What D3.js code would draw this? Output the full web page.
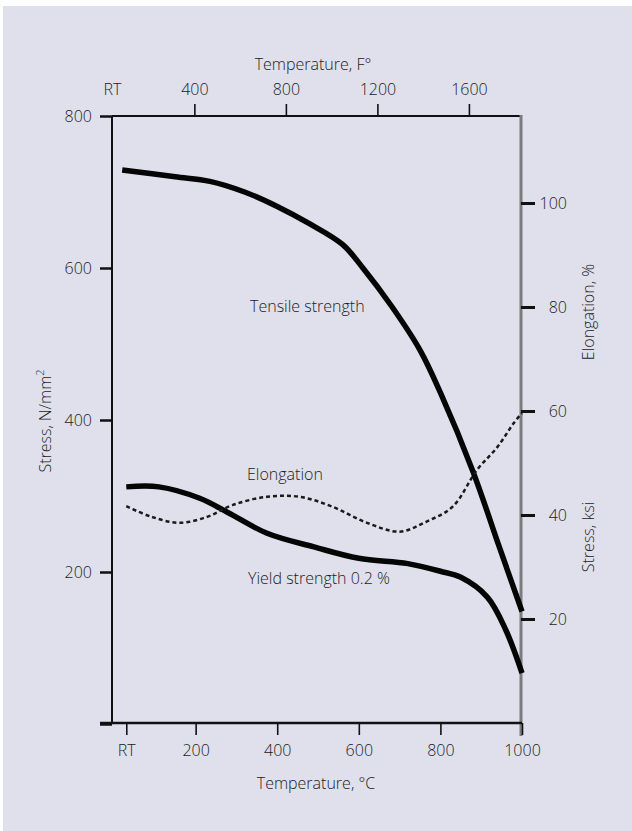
<!DOCTYPE html>
<html>
<head>
<meta charset="utf-8">
<script src="https://cdn.jsdelivr.net/npm/d3@7"></script>
<style>
  body { margin: 0; background: #fff; }
  text { font-family: "Open Sans", "DejaVu Sans", sans-serif; font-weight: 300; fill: #1c1c1c; }
</style>
</head>
<body>
<div id="chart"></div>
<script>
// temperature (°C) / stress (N/mm²) readings
const tensile = [[20,729],[150,720],[235,714],[320,700],[400,681],[480,658],[560,631],[610,600],
                 [680,550],[750,492],[800,436],[880,332],[945,232],[1000,148]];
const yieldStr = [[30,312],[110,312],[210,297],[280,278],[375,251],[490,233],[600,218],[720,211],
                  [800,201],[850,193],[915,167],[960,124],[1000,67]];
// temperature (°C) / elongation (%)
const elongation = [[30,41.7],[90,39.7],[160,38.5],[230,39.7],[290,41.9],[375,43.5],[455,43.5],
                    [535,41.6],[620,38.5],[700,36.8],[765,38.7],[830,41.6],[890,48.7],[940,53.1],
                    [980,57.7],[1000,59.6]];

const cTicks = [30, 200, 400, 600, 800, 1000];
const fTicks = [40, 400, 800, 1200, 1600];
const stressTicks = [0, 200, 400, 600, 800];
const rightTicks = [20, 40, 60, 80, 100];

const width = 632, height = 831;

const svg = d3.select("#chart").append("svg")
    .attr("width", width)
    .attr("height", height);

svg.append("rect")
    .attr("x", 3).attr("y", 6)
    .attr("width", width - 3).attr("height", height - 6)
    .attr("fill", "#dfe0ec");

// scales
const x = d3.scaleLinear().domain([-5, 1000]).range([112, 522]);
const xF = d3.scaleLinear().domain([40, 1832]).range([112, 522]);
const y = d3.scaleLinear().domain([0, 800]).range([724, 116]);
const yPct = d3.scaleLinear().domain([0, 100]).range([723, 203]);

// frame
const frame = svg.append("g");
frame.append("line").attr("x1", 112).attr("x2", 521).attr("y1", 116).attr("y2", 116)
    .attr("stroke", "#111").attr("stroke-width", 2);
frame.append("line").attr("x1", 112).attr("x2", 112).attr("y1", 116).attr("y2", 723)
    .attr("stroke", "#111").attr("stroke-width", 2);
frame.append("line").attr("x1", 521).attr("x2", 521).attr("y1", 115).attr("y2", 736)
    .attr("stroke", "#7c7c7e").attr("stroke-width", 3);
frame.append("line").attr("x1", 100).attr("x2", 522).attr("y1", 723).attr("y2", 723)
    .attr("stroke", "#111").attr("stroke-width", 2.5);

// bottom axis (°C)
const axisC = svg.append("g")
    .attr("transform", "translate(0,723)")
    .call(d3.axisBottom(x).tickValues(cTicks).tickSize(12).tickPadding(10)
        .tickFormat(d => d === 30 ? "RT" : d));
axisC.select(".domain").remove();
axisC.selectAll(".tick line").attr("stroke", "#111").attr("stroke-width", 1.6);
axisC.selectAll(".tick text").style("font-size", "16px").attr("fill", "#1c1c1c");

// top axis (°F)
const axisF = svg.append("g")
    .attr("transform", "translate(0,116)")
    .call(d3.axisTop(xF).tickValues(fTicks).tickSize(12).tickPadding(9)
        .tickFormat(d => d === 40 ? "RT" : d));
axisF.select(".domain").remove();
axisF.selectAll(".tick line").attr("stroke", "#111").attr("stroke-width", 1.6)
    .filter(d => d === 40).remove();
axisF.selectAll(".tick text").style("font-size", "16px").attr("fill", "#1c1c1c");

// left axis (N/mm²)
const axisStress = svg.append("g")
    .attr("transform", "translate(112,0)")
    .call(d3.axisLeft(y).tickValues(stressTicks).tickSize(12).tickPadding(8)
        .tickFormat(d => d === 0 ? "" : d));
axisStress.select(".domain").remove();
axisStress.selectAll(".tick line").attr("stroke", "#111").attr("stroke-width", 2.5);
axisStress.selectAll(".tick text").style("font-size", "16px").attr("fill", "#1c1c1c");

// right axis (elongation % / ksi)
const axisRightSide = svg.append("g")
    .attr("transform", "translate(521,0)")
    .call(d3.axisRight(yPct).tickValues(rightTicks).tickSize(14));
axisRightSide.select(".domain").remove();
axisRightSide.selectAll(".tick line").attr("stroke", "#111").attr("stroke-width", 3);
axisRightSide.selectAll(".tick text").style("font-size", "16px").attr("fill", "#1c1c1c")
    .attr("x", 46).attr("text-anchor", "end");

// axis titles
svg.append("text").attr("x", 313).attr("y", 70).attr("text-anchor", "middle")
    .style("font-size", "16px").text("Temperature, F°");
svg.append("text").attr("x", 316).attr("y", 789).attr("text-anchor", "middle")
    .style("font-size", "16px").text("Temperature, °C");

const leftTitle = svg.append("text")
    .attr("transform", "translate(51,421) rotate(-90)")
    .attr("text-anchor", "middle")
    .style("font-size", "16px");
leftTitle.append("tspan").text("Stress, N/mm");
leftTitle.append("tspan").attr("baseline-shift", "super").style("font-size", "11px").text("2");

svg.append("text").attr("transform", "translate(594,312) rotate(-90)")
    .attr("text-anchor", "middle").style("font-size", "16px").text("Elongation, %");
svg.append("text").attr("transform", "translate(594,537) rotate(-90)")
    .attr("text-anchor", "middle").style("font-size", "16px").text("Stress, ksi");

// curves
const stressLine = d3.line()
    .x(d => x(d[0]))
    .y(d => y(d[1]))
    .curve(d3.curveCatmullRom.alpha(0.5));

const pctLine = d3.line()
    .x(d => x(d[0]))
    .y(d => yPct(d[1]))
    .curve(d3.curveCatmullRom.alpha(0.5));

svg.append("path").datum(tensile)
    .attr("d", stressLine)
    .attr("fill", "none").attr("stroke", "#050505").attr("stroke-width", 5.5);

svg.append("path").datum(yieldStr)
    .attr("d", stressLine)
    .attr("fill", "none").attr("stroke", "#050505").attr("stroke-width", 5.5);

svg.append("path").datum(elongation)
    .attr("d", pctLine)
    .attr("fill", "none").attr("stroke", "#1a1a1a").attr("stroke-width", 2.5)
    .attr("stroke-dasharray", "4,3");

// curve labels
svg.append("text").attr("x", 250).attr("y", 312).style("font-size", "16px").text("Tensile strength");
svg.append("text").attr("x", 247).attr("y", 480).style("font-size", "16px").text("Elongation");
svg.append("text").attr("x", 248).attr("y", 584).style("font-size", "16px").text("Yield strength 0.2 %");
</script>
</body>
</html>
